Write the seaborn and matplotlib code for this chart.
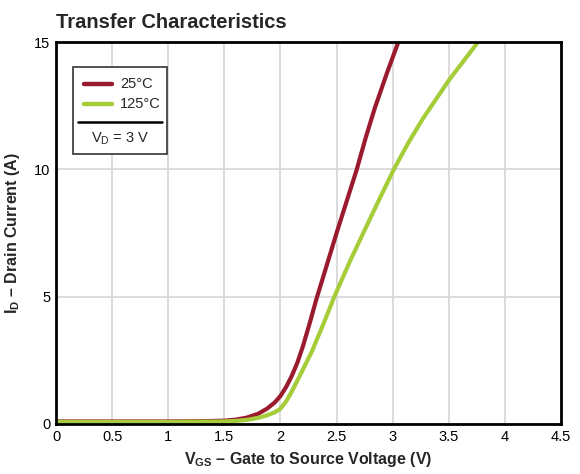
import numpy as np
import pandas as pd
import matplotlib
matplotlib.use("Agg")
import matplotlib.pyplot as plt
from matplotlib.lines import Line2D
from matplotlib.patches import Rectangle
import seaborn as sns

# Data
vgs_25 = [0.0, 0.5, 1.0, 1.3, 1.5, 1.6, 1.7, 1.8, 1.88, 1.95, 2.0, 2.05, 2.1, 2.15, 2.2, 2.26,
          2.32, 2.41, 2.5, 2.59, 2.68, 2.76, 2.84, 2.95, 3.05]
id_25 = [0.1, 0.1, 0.1, 0.11, 0.13, 0.17, 0.25, 0.4, 0.6, 0.85, 1.1, 1.45, 1.88, 2.4, 3.05, 3.95,
         4.9, 6.2, 7.5, 8.75, 10.0, 11.25, 12.4, 13.8, 15.0]
vgs_125 = [0.0, 0.5, 1.0, 1.3, 1.5, 1.6, 1.7, 1.8, 1.88, 1.95, 2.0, 2.05, 2.11, 2.19, 2.28,
           2.38, 2.48, 2.62, 2.77, 2.9, 3.01, 3.14, 3.27, 3.5, 3.76]
id_125 = [0.08, 0.08, 0.08, 0.09, 0.1, 0.12, 0.16, 0.24, 0.34, 0.46, 0.6, 0.88, 1.35, 2.05, 2.85,
          3.9, 5.0, 6.4, 7.8, 9.0, 10.0, 11.05, 12.0, 13.5, 15.0]
series_labels = ["25°C", "125°C"]
x_ticks = [0, 0.5, 1, 1.5, 2, 2.5, 3, 3.5, 4, 4.5]
x_tick_labels = ["0", "0.5", "1", "1.5", "2", "2.5", "3", "3.5", "4", "4.5"]
y_ticks = [0, 5, 10, 15]
y_tick_labels = ["0", "5", "10", "15"]

df = pd.concat([
    pd.DataFrame({"VGS": vgs_25, "ID": id_25, "T": series_labels[0]}),
    pd.DataFrame({"VGS": vgs_125, "ID": id_125, "T": series_labels[1]}),
])

sns.set_theme(style="white")
plt.rcParams["font.family"] = ["Liberation Sans", "DejaVu Sans"]
plt.rcParams["mathtext.fontset"] = "custom"
plt.rcParams["mathtext.rm"] = "Liberation Sans"
plt.rcParams["mathtext.bf"] = "Liberation Sans:bold"

colors = {"25°C": "#9B1B2E", "125°C": "#A5CD39"}

fig = plt.figure(figsize=(5.8, 4.74), dpi=100)
ax = fig.add_axes([0.0966, 0.1055, 0.8706, 0.8055])

sns.lineplot(data=df, x="VGS", y="ID", hue="T", palette=colors, linewidth=3.0,
             legend=False, ax=ax, sort=False)
for ln in ax.lines:
    ln.set_solid_joinstyle("round")
    ln.set_solid_capstyle("butt")

ax.set_xlim(0, 4.5)
ax.set_ylim(0, 15)
ax.set_xticks(x_ticks)
ax.set_xticklabels(x_tick_labels)
ax.set_yticks(y_ticks)
ax.set_yticklabels(y_tick_labels)
ax.tick_params(axis="both", length=0, labelsize=10.5, colors="black", pad=4)
ax.grid(True, color="#d9d9d9", linewidth=1.3)
ax.set_axisbelow(True)
for s in ax.spines.values():
    s.set_visible(True)
    s.set_color("black")
    s.set_linewidth(2)

ax.set_xlabel(r"V$_{\mathbf{GS}}$ – Gate to Source Voltage (V)", fontsize=11.5,
              fontweight="bold", labelpad=5)
ax.set_ylabel(r"I$_{\mathbf{D}}$ – Drain Current (A)", fontsize=11.5,
              fontweight="bold", labelpad=9)
ax.set_title("Transfer Characteristics", loc="left", fontsize=14.5, fontweight="bold", pad=10)

# Legend box (drawn in axes fraction coordinates)
box_x0, box_x1 = (73 - 56) / 505, (167 - 56) / 505
box_y0, box_y1 = (424 - 154) / 382, (424 - 67) / 382
ax.add_patch(Rectangle((box_x0, box_y0), box_x1 - box_x0, box_y1 - box_y0,
                       transform=ax.transAxes, facecolor="white", edgecolor="#333333",
                       linewidth=1.2, zorder=5))
for i, lab in enumerate(series_labels):
    yy = (424 - (84 + i * 20)) / 382
    ax.add_line(Line2D([(84 - 56) / 505, (112 - 56) / 505], [yy, yy], transform=ax.transAxes,
                       color=colors[lab], linewidth=3.2, zorder=6))
    ax.text((120 - 56) / 505, yy, lab, transform=ax.transAxes, fontsize=10.5,
            va="center", ha="left", zorder=6)
sep_y = (424 - 122) / 382
ax.add_line(Line2D([(78 - 56) / 505, (162 - 56) / 505], [sep_y, sep_y], transform=ax.transAxes,
                   color="black", linewidth=1.8, zorder=6))
ax.text((120 - 56) / 505, (424 - 139) / 382, r"V$_\mathrm{D}$ = 3 V", transform=ax.transAxes,
        fontsize=10.5, va="center", ha="center", zorder=6)

fig.savefig("out.png", dpi=100)
